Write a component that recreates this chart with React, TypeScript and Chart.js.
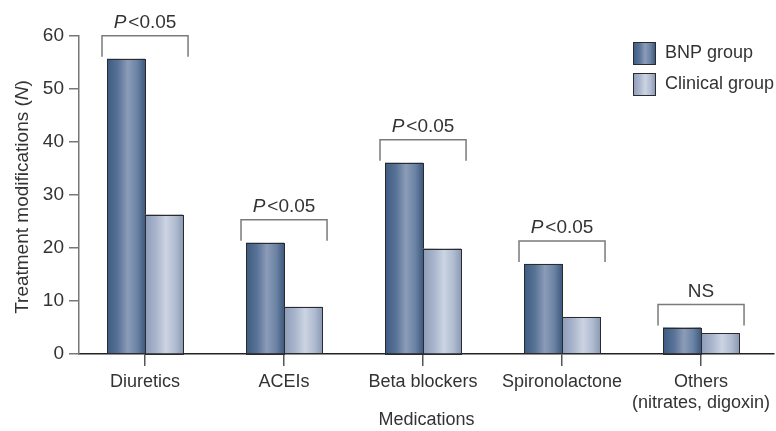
import React, { useEffect, useRef } from "react";
import { Chart, registerables } from "chart.js";

Chart.register(...registerables);

const categories: (string | string[])[] = [
  "Diuretics",
  "ACEIs",
  "Beta blockers",
  "Spironolactone",
  ["Others", "(nitrates, digoxin)"],
];
const bnpGroup = [55.7, 21, 36.1, 17, 5];
const clinicalGroup = [26.3, 8.9, 19.9, 7, 3.9];
const significance = ["P<0.05", "P<0.05", "P<0.05", "P<0.05", "NS"];
const seriesNames = ["BNP group", "Clinical group"];
const yTicks = [0, 10, 20, 30, 40, 50, 60];

const FONT = "'Liberation Sans', Arial, sans-serif";
const TEXT = "#333333";

const gradStops = [
  ["#3c5a80", "#5a7498", "#8c9cb8", "#6a82a4", "#3e5a7e"],
  ["#8e9cba", "#aab6cc", "#ccd4e2", "#b0bcd0", "#8c9ab6"],
];

const customPlugin = {
  id: "custom",
  afterDatasetsDraw(chart: any) {
    const ctx = chart.ctx as CanvasRenderingContext2D;
    const y = chart.scales.y;
    // gradient fills
    [0, 1].forEach((di) => {
      const meta = chart.getDatasetMeta(di);
      meta.data.forEach((bar: any) => {
        const left = bar.x - bar.width / 2;
        const right = bar.x + bar.width / 2;
        const top = Math.min(bar.y, bar.base);
        const h = Math.abs(bar.base - bar.y);
        const g = ctx.createLinearGradient(left, 0, right, 0);
        const st = gradStops[di];
        g.addColorStop(0, st[0]);
        g.addColorStop(0.3, st[1]);
        g.addColorStop(0.55, st[2]);
        g.addColorStop(0.8, st[3]);
        g.addColorStop(1, st[4]);
        ctx.save();
        ctx.fillStyle = g;
        ctx.fillRect(left, top, right - left, h);
        ctx.strokeStyle = "#2b2b2b";
        ctx.lineWidth = 1;
        ctx.strokeRect(Math.round(left) + 0.5, Math.round(top) + 0.5, Math.round(right - left), Math.round(h));
        ctx.restore();
      });
    });
    // brackets
    const m0 = chart.getDatasetMeta(0);
    const m1 = chart.getDatasetMeta(1);
    significance.forEach((lab, i) => {
      const b0 = m0.data[i];
      const b1 = m1.data[i];
      const maxV = Math.max(bnpGroup[i], clinicalGroup[i]);
      const barTop = y.getPixelForValue(maxV);
      const legBottom = barTop - 2;
      const top = barTop - 23;
      const x1 = b0.x - b0.width / 2 - 5;
      const x2 = b1.x + b1.width / 2 + 5;
      ctx.save();
      ctx.strokeStyle = "#7a7a7a";
      ctx.lineWidth = 1.5;
      ctx.beginPath();
      ctx.moveTo(x1, legBottom);
      ctx.lineTo(x1, top);
      ctx.lineTo(x2, top);
      ctx.lineTo(x2, legBottom);
      ctx.stroke();
      ctx.fillStyle = TEXT;
      ctx.textBaseline = "alphabetic";
      const cx = (x1 + x2) / 2;
      if (lab.startsWith("P")) {
        const rest = lab.slice(1);
        ctx.font = `italic 19px ${FONT}`;
        const wP = ctx.measureText("P").width + 2;
        ctx.font = `19px ${FONT}`;
        const wR = ctx.measureText(rest).width;
        const sx = cx - (wP + wR) / 2;
        ctx.font = `italic 19px ${FONT}`;
        ctx.textAlign = "left";
        ctx.fillText("P", sx, top - 8);
        ctx.font = `19px ${FONT}`;
        ctx.fillText(rest, sx + wP, top - 8);
      } else {
        ctx.font = `19px ${FONT}`;
        ctx.textAlign = "center";
        ctx.fillText(lab, cx, top - 8);
      }
      ctx.restore();
    });
    // legend
    ctx.save();
    seriesNames.forEach((name, i) => {
      const bx = 633;
      const by = 42 + i * 31;
      const g = ctx.createLinearGradient(bx, 0, bx + 22, 0);
      const st = gradStops[i];
      g.addColorStop(0, st[0]);
      g.addColorStop(0.3, st[1]);
      g.addColorStop(0.55, st[2]);
      g.addColorStop(0.8, st[3]);
      g.addColorStop(1, st[4]);
      ctx.fillStyle = g;
      ctx.fillRect(bx, by, 22, 22);
      ctx.strokeStyle = "#2b2b2b";
      ctx.lineWidth = 1;
      ctx.strokeRect(bx + 0.5, by + 0.5, 22, 22);
      ctx.fillStyle = TEXT;
      ctx.font = `18px ${FONT}`;
      ctx.textAlign = "left";
      ctx.textBaseline = "middle";
      ctx.fillText(name, 665, by + 11);
    });
    ctx.restore();
    // y axis title with italic N
    ctx.save();
    ctx.translate(23, 197);
    ctx.rotate(-Math.PI / 2);
    ctx.fillStyle = TEXT;
    ctx.textBaseline = "middle";
    ctx.textAlign = "left";
    const parts: [string, boolean][] = [["Treatment modifications (", false], ["N", true], [")", false]];
    let total = 0;
    parts.forEach(([t, it]) => {
      ctx.font = `${it ? "italic " : ""}19px ${FONT}`;
      total += ctx.measureText(t).width;
    });
    let sx = -total / 2;
    parts.forEach(([t, it]) => {
      ctx.font = `${it ? "italic " : ""}19px ${FONT}`;
      ctx.fillText(t, sx, 0);
      sx += ctx.measureText(t).width;
    });
    ctx.restore();
  },
};

export default function App() {
  const ref = useRef<HTMLCanvasElement>(null);
  useEffect(() => {
    document.body.style.margin = "0";
    const chart = new Chart(ref.current!, {
      type: "bar",
      data: {
        labels: categories as any,
        datasets: [
          {
            label: seriesNames[0],
            data: bnpGroup,
            backgroundColor: "#5a7498",
            borderColor: "#2b2b2b",
            borderWidth: 1,
            barPercentage: 1,
            categoryPercentage: 0.547,
          },
          {
            label: seriesNames[1],
            data: clinicalGroup,
            backgroundColor: "#aab6cc",
            borderColor: "#2b2b2b",
            borderWidth: 1,
            barPercentage: 1,
            categoryPercentage: 0.547,
          },
        ],
      },
      options: {
        animation: false,
        responsive: false,
        maintainAspectRatio: false,
        layout: { padding: { top: 36, right: 2, left: 0, bottom: 0 } },
        plugins: {
          legend: { display: false },
          tooltip: { enabled: false },
        },
        scales: {
          x: {
            offset: true,
            afterBuildTicks: (s: any) => {
              s._startValue = -0.475;
              s._valueRange = 5;
            },
            grid: {
              offset: false,
              drawOnChartArea: false,
              drawTicks: true,
              tickLength: 12,
              color: "#555555",
              lineWidth: 1.5,
            },
            border: { color: "#222222", width: 1.5 },
            ticks: {
              color: TEXT,
              font: { family: FONT, size: 18 },
              padding: 5,
              maxRotation: 0,
              autoSkip: false,
            },
            title: {
              display: true,
              text: "Medications",
              color: TEXT,
              font: { family: FONT, size: 18 },
              padding: { top: 0, bottom: 0 },
            },
            afterFit: (s: any) => {
              s.height = 77;
            },
          },
          y: {
            min: 0,
            max: 60,
            afterBuildTicks: (s: any) => {
              s.ticks = yTicks.map((v) => ({ value: v }));
            },
            grid: {
              drawOnChartArea: false,
              drawTicks: true,
              tickLength: 10,
              color: "#777777",
              lineWidth: 1.5,
            },
            border: { color: "#777777", width: 1.5 },
            ticks: {
              color: TEXT,
              font: { family: FONT, size: 19 },
              padding: 5,
            },
            afterFit: (s: any) => {
              s.width = 79;
            },
          },
        },
      },
      plugins: [customPlugin],
    });
    return () => chart.destroy();
  }, []);
  return (
    <div style={{ width: 776, height: 431 }}>
      <canvas ref={ref} width={776} height={431} style={{ display: "block" }} />
    </div>
  );
}
